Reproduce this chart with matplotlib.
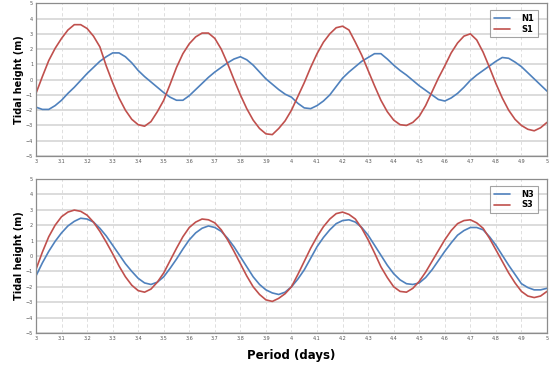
import numpy as np
import matplotlib
matplotlib.use("Agg")
import matplotlib.pyplot as plt

x_days = [3.000 + 0.025 * i for i in range(81)]

n1 = [-1.8, -1.95, -1.95, -1.7, -1.35, -0.9, -0.5, -0.05, 0.4, 0.8,
      1.2, 1.5, 1.75, 1.75, 1.5, 1.1, 0.6, 0.2, -0.15, -0.5,
      -0.85, -1.15, -1.35, -1.35, -1.05, -0.65, -0.25, 0.15, 0.5, 0.8,
      1.1, 1.35, 1.5, 1.3, 0.95, 0.5, 0.05, -0.3, -0.65, -0.95,
      -1.15, -1.55, -1.85, -1.9, -1.7, -1.4, -1.0, -0.45, 0.1, 0.5,
      0.85, 1.2, 1.45, 1.7, 1.7, 1.35, 0.95, 0.6, 0.3, -0.05,
      -0.4, -0.7, -1.0, -1.3, -1.4, -1.2, -0.9, -0.5, -0.05, 0.3,
      0.6, 0.9, 1.2, 1.45, 1.4, 1.15, 0.85, 0.45, 0.05, -0.35,
      -0.75]

s1 = [-0.9, 0.2, 1.25, 2.05, 2.7, 3.25, 3.6, 3.6, 3.35, 2.85,
      2.15, 0.9, -0.2, -1.2, -2.0, -2.6, -2.95, -3.05, -2.75, -2.1,
      -1.35, -0.3, 0.8, 1.7, 2.35, 2.8, 3.05, 3.05, 2.7, 2.0,
      1.05, 0.0, -1.0, -1.9, -2.65, -3.2, -3.55, -3.6, -3.2, -2.7,
      -2.0, -1.1, -0.2, 0.8, 1.7, 2.45, 3.0, 3.4, 3.5, 3.25,
      2.45, 1.6, 0.6, -0.4, -1.35, -2.1, -2.65, -2.95, -3.0, -2.8,
      -2.4, -1.7, -0.8, 0.1, 0.9, 1.75, 2.4, 2.85, 3.0, 2.6,
      1.8, 0.8, -0.25, -1.2, -2.0, -2.6, -3.0, -3.25, -3.35, -3.15,
      -2.8]

n3 = [-1.3, -0.45, 0.3, 0.95, 1.5, 1.95, 2.25, 2.45, 2.4, 2.2,
      1.8, 1.3, 0.7, 0.1, -0.5, -1.0, -1.45, -1.75, -1.85, -1.7,
      -1.35, -0.8, -0.2, 0.45, 1.05, 1.5, 1.8, 1.95, 1.85, 1.6,
      1.15, 0.6, -0.05, -0.7, -1.35, -1.85, -2.2, -2.4, -2.5, -2.35,
      -2.0, -1.5, -0.9, -0.15, 0.6, 1.2, 1.7, 2.1, 2.3, 2.35,
      2.2, 1.85, 1.35, 0.7, 0.05, -0.6, -1.15, -1.55, -1.8, -1.85,
      -1.75, -1.4, -0.9, -0.3, 0.3, 0.85, 1.35, 1.65, 1.85, 1.85,
      1.7, 1.25, 0.7, 0.05, -0.6, -1.2, -1.8, -2.05, -2.2, -2.2,
      -2.1]

s3 = [-0.87, 0.25, 1.25, 2.0, 2.55, 2.85, 2.98, 2.9, 2.65, 2.2,
      1.6, 0.9, 0.15, -0.65, -1.35, -1.9, -2.25, -2.35, -2.15, -1.7,
      -1.1, -0.3, 0.5, 1.25, 1.85, 2.2, 2.4, 2.35, 2.15, 1.7,
      1.05, 0.3, -0.5, -1.3, -2.0, -2.5, -2.85, -2.95, -2.75, -2.45,
      -2.0, -1.2, -0.35, 0.5, 1.25, 1.9, 2.4, 2.75, 2.85, 2.7,
      2.4, 1.8, 1.05, 0.2, -0.7, -1.4, -2.0, -2.3, -2.35, -2.1,
      -1.65, -1.05, -0.35, 0.35, 1.05, 1.65, 2.1, 2.3, 2.35, 2.15,
      1.8, 1.15, 0.4, -0.35, -1.1, -1.75, -2.3, -2.6, -2.7, -2.6,
      -2.3]

x_ticks = [3.0, 3.1, 3.2, 3.3, 3.4, 3.5, 3.6, 3.7, 3.8, 3.9, 4.0,
           4.1, 4.2, 4.3, 4.4, 4.5, 4.6, 4.7, 4.8, 4.9, 5.0]
x_tick_labels = ["3", "3.1", "3.2", "3.3", "3.4", "3.5", "3.6", "3.7", "3.8", "3.9", "4",
                 "4.1", "4.2", "4.3", "4.4", "4.5", "4.6", "4.7", "4.8", "4.9", "5"]
y_ticks = [-5, -4, -3, -2, -1, 0, 1, 2, 3, 4, 5]

BLUE = "#4f81bd"
RED = "#c0504d"

fig = plt.figure(figsize=(5.51, 3.66), dpi=100)
ax1 = fig.add_axes([0.0653, 0.5738, 0.9274, 0.4172])
ax2 = fig.add_axes([0.0653, 0.0902, 0.9274, 0.4208])

def style(ax):
    ax.set_xlim(3, 5)
    ax.set_ylim(-5, 5)
    ax.set_xticks(x_ticks)
    ax.set_xticklabels(x_tick_labels)
    ax.set_yticks(y_ticks)
    ax.tick_params(axis="both", labelsize=3.5, length=0, pad=2, colors="#555555")
    ax.yaxis.grid(True, color="#d9d9d9", linewidth=1.3, linestyle="-")
    ax.xaxis.grid(True, color="#d9d9d9", linewidth=0.6, linestyle=(0, (4, 3)))
    ax.set_axisbelow(True)
    for sp in ax.spines.values():
        sp.set_color("#8c8c8c")
        sp.set_linewidth(0.9)
    ax.set_ylabel("Tidal height (m)", fontsize=7, fontweight="bold", labelpad=1.5)

def legend(ax):
    leg = ax.legend(loc="upper right", bbox_to_anchor=(0.985, 0.965), fontsize=6,
                    frameon=True, fancybox=False, edgecolor="#8c8c8c",
                    handlelength=2.0, handletextpad=1.3, borderpad=0.45,
                    labelspacing=0.2, borderaxespad=0.2)
    leg.get_frame().set_linewidth(0.8)
    for t in leg.get_texts():
        t.set_fontweight("bold")

kw = dict(linewidth=1.2, solid_joinstyle="round", solid_capstyle="round")
ax1.plot(x_days, n1, color=BLUE, label="N1", **kw)
ax1.plot(x_days, s1, color=RED, label="S1", **kw)
style(ax1)
legend(ax1)

ax2.plot(x_days, n3, color=BLUE, label="N3", **kw)
ax2.plot(x_days, s3, color=RED, label="S3", **kw)
style(ax2)
legend(ax2)
ax2.set_xlabel("Period (days)", fontsize=8.5, fontweight="bold", labelpad=6)

fig.savefig("out.png", dpi=100)
